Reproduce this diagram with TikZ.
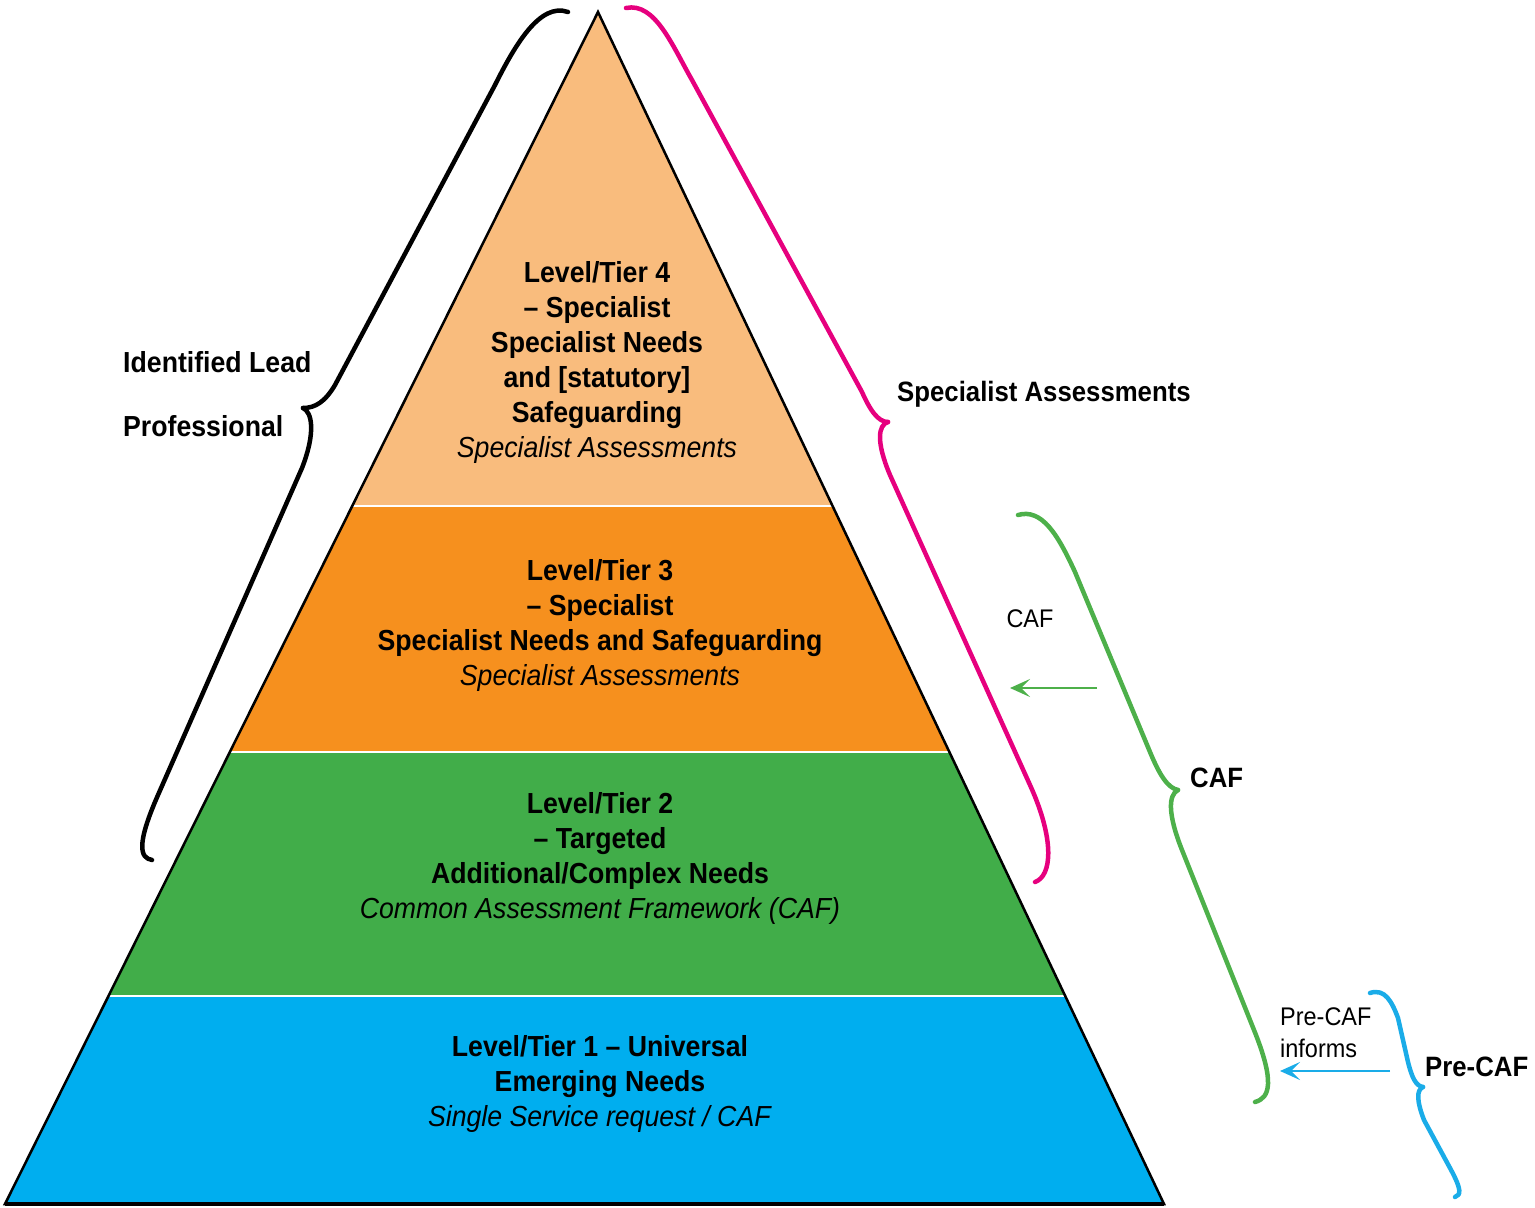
\documentclass[tikz,border=0pt]{standalone}
\usepackage{fontspec}
\setmainfont{Liberation Sans}[FakeStretch=0.92]
\usetikzlibrary{arrows.meta}
\definecolor{tfour}{HTML}{F9BC7D}
\definecolor{tthree}{HTML}{F6901E}
\definecolor{ttwo}{HTML}{41AD49}
\definecolor{tone}{HTML}{00AEEF}
\definecolor{bmag}{HTML}{E6007E}
\definecolor{bgreen}{HTML}{4DB04A}
\definecolor{bblue}{HTML}{1AACE8}
\tikzset{
  band/.style={draw=white, line width=1.5pt},
  tiertext/.style={align=center, font=\fontsize{29}{35}\selectfont, inner sep=0pt},
  sidelabel/.style={anchor=west, font=\fontsize{28}{35}\selectfont\bfseries, inner sep=0pt},
  smalllabel/.style={font=\fontsize{25.5}{32}\selectfont, inner sep=0pt},
  bracestyle/.style={line width=4.5pt, line cap=round, line join=round},
  arr/.style={line width=2.5pt, -{Stealth[length=20pt,width=18pt,inset=9pt]}}
}
\begin{document}
\begin{tikzpicture}[x=1pt,y=-1pt]
\useasboundingbox (0,0) rectangle (1535,1208);
% bands
\fill[tone]  (5,1204) -- (108.5,996) -- (1065.2,996) -- (1164,1204) -- cycle;
\fill[ttwo]  (108.5,996) -- (229.9,752) -- (949.4,752) -- (1065.2,996) -- cycle;
\fill[tthree] (229.9,752) -- (352.2,506) -- (832.6,506) -- (949.4,752) -- cycle;
\fill[tfour] (352.2,506) -- (598,12) -- (832.6,506) -- cycle;
\draw[band] (108.5,996) -- (1065.2,996);
\draw[band] (229.9,752) -- (949.4,752);
\draw[band] (352.2,506) -- (832.6,506);
\draw[line width=2.5pt, line join=miter] (598,12) -- (1164,1204) -- (5,1204) -- cycle;
\draw[line width=4pt] (5,1204) -- (1164,1204);

% tier texts
\node[tiertext] (t4) at (597,362) {\textbf{Level/Tier 4}\\\textbf{– Specialist}\\\textbf{Specialist Needs}\\\textbf{and [statutory]}\\\textbf{Safeguarding}\\\textit{Specialist Assessments}};
\node[tiertext] (t3) at (600,625) {\textbf{Level/Tier 3}\\\textbf{– Specialist}\\\textbf{Specialist Needs and Safeguarding}\\\textit{Specialist Assessments}};
\node[tiertext] (t2) at (600,858) {\textbf{Level/Tier 2}\\\textbf{– Targeted}\\\textbf{Additional/Complex Needs}\\\textit{Common Assessment Framework (CAF)}};
\node[tiertext] (t1) at (600,1084) {\textbf{Level/Tier 1 – Universal}\\\textbf{Emerging Needs}\\\textit{Single Service request / CAF}};

% black brace
\draw[bracestyle, black] (568,12) .. controls (540,2) and (515,45) .. (495,85) -- (335,385) .. controls (325,402) and (315,408) .. (303,408);
\draw[bracestyle, black] (303,408) .. controls (312,412) and (316,432) .. (302,468) -- (158,795) .. controls (136,845) and (140,858) .. (152,860);
\node[anchor=west, align=left, font=\fontsize{29}{64}\selectfont\bfseries, inner sep=0pt] (lead) at (123,394) {Identified Lead\\Professional};

% magenta brace
\draw[bracestyle, bmag] (626,8) .. controls (655,2) and (672,45) .. (692,80) -- (862,392) .. controls (870,410) and (878,422) .. (888,422);
\draw[bracestyle, bmag] (888,422) .. controls (878,425) and (876,442) .. (890,475) -- (1030,785) .. controls (1055,840) and (1052,876) .. (1035,882);
\node[sidelabel] (spec) at (897,394) {Specialist Assessments};

% green brace
\draw[bracestyle, bgreen] (1018,515) .. controls (1042,508) and (1058,535) .. (1075,572) -- (1150,752) .. controls (1160,776) and (1168,788) .. (1178,790);
\draw[bracestyle, bgreen] (1178,790) .. controls (1168,795) and (1168,815) .. (1182,850) -- (1254,1030) .. controls (1275,1082) and (1270,1098) .. (1255,1102);
\node[sidelabel] (caf) at (1190,778) {CAF};

% blue brace
\draw[bracestyle, bblue] (1370,993) .. controls (1385,988) and (1392,1002) .. (1398,1018) -- (1408,1062) .. controls (1412,1078) and (1416,1086) .. (1423,1087);
\draw[bracestyle, bblue] (1423,1087) .. controls (1416,1090) and (1417,1102) .. (1424,1120) -- (1450,1168) .. controls (1462,1190) and (1461,1195) .. (1455,1197);
\node[sidelabel] (precaf) at (1425,1067) {Pre-CAF};

% arrows and small labels
\node[smalllabel] (caflbl) at (1030,619) {CAF};
\coordinate (ga1) at (1097,688);
\coordinate (ga2) at (1010,688);
\draw[arr, bgreen] (ga1) -- (ga2);
\node[smalllabel, anchor=west, align=left] (inform) at (1280,1033) {Pre-CAF\\informs};
\coordinate (ba1) at (1390,1071);
\coordinate (ba2) at (1280,1071);
\draw[arr, bblue] (ba1) -- (ba2);
\end{tikzpicture}
\end{document}
